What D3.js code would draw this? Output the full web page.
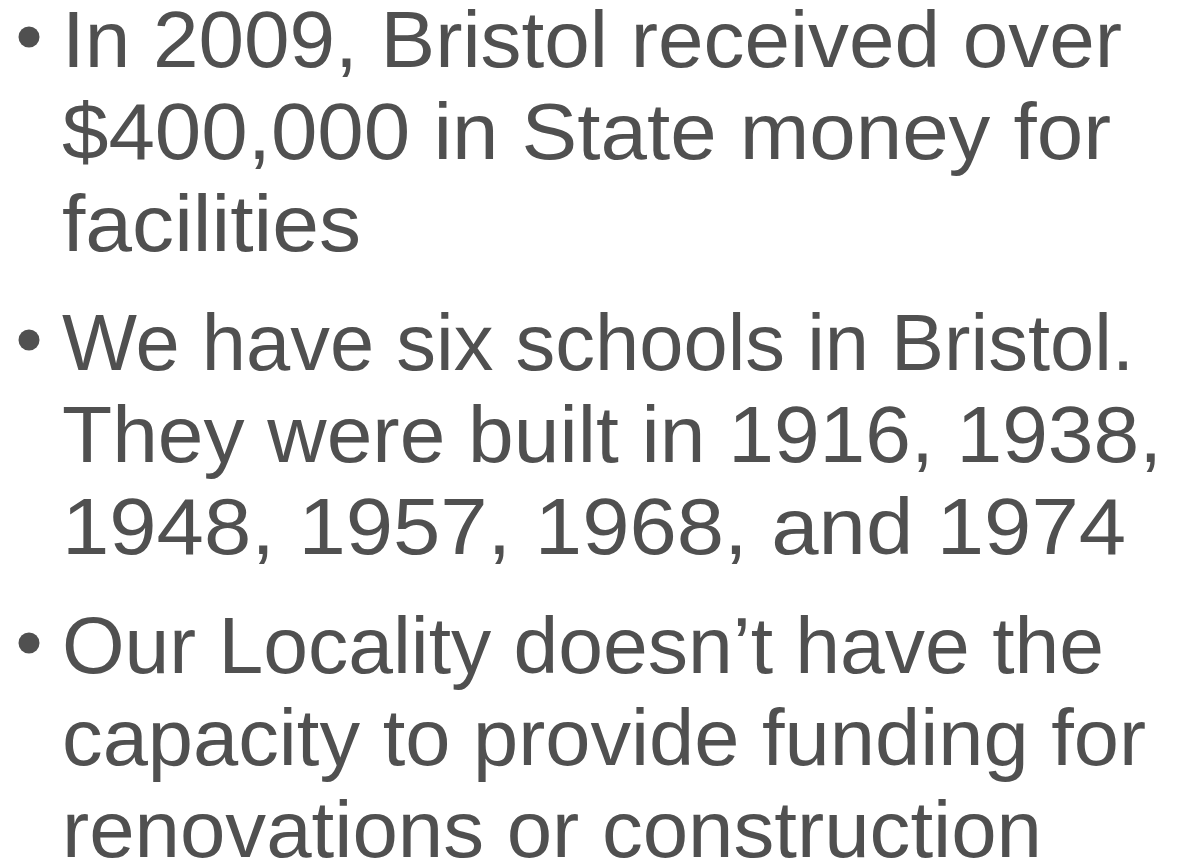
<!DOCTYPE html>
<html>
<head>
<meta charset="utf-8">
<script src="https://cdn.jsdelivr.net/npm/d3@7/dist/d3.min.js"></script>
<style>
  html, body { margin: 0; padding: 0; background: #ffffff; }
  svg { display: block; }
</style>
</head>
<body>
<svg id="slide" width="1180" height="863"></svg>
<script>
// Slide content: three bullets, each with its wrapped lines
const bullet1 = ["In 2009, Bristol received over", "$400,000 in State money for", "facilities"];
const bullet2 = ["We have six schools in Bristol.", "They were built in 1916, 1938,", "1948, 1957, 1968, and 1974"];
const bullet3 = ["Our Locality doesn\u2019t have the", "capacity to provide funding for", "renovations or construction"];
const bullets = [bullet1, bullet2, bullet3];

// Layout (not data): right edge of each wrapped line as set in the original slide
const lineRightEdges = [
  [1118, 1107, 357],
  [1130, 1158, 1122],
  [1100, 1142, 1038]
];

const W = 1180, H = 863;
const textColor = "#505050";
const fontSize = 80;
const firstBaseline = 67;
const lineStep = 92;
const paraStep = 119;
const textX = 62;
const rightBearing = 4;
const bulletX = 29;
const bulletR = 10.5;

const svg = d3.select("#slide");
svg.append("rect").attr("width", W).attr("height", H).attr("fill", "#ffffff");

let y = firstBaseline;
bullets.forEach((lines, bi) => {
  const g = svg.append("g").attr("class", "bullet");
  g.append("circle")
    .attr("cx", bulletX)
    .attr("cy", y - 30)
    .attr("r", bulletR)
    .attr("fill", textColor);
  g.selectAll("text")
    .data(lines)
    .join("text")
    .attr("x", textX)
    .attr("y", (d, i) => y + i * lineStep)
    .attr("font-family", "'Liberation Sans', Arial, sans-serif")
    .attr("font-size", fontSize)
    .attr("fill", textColor)
    .attr("textLength", (d, i) => lineRightEdges[bi][i] - textX + rightBearing)
    .attr("lengthAdjust", "spacingAndGlyphs")
    .text(d => d);
  y += (lines.length - 1) * lineStep + paraStep;
});
</script>
</body>
</html>
